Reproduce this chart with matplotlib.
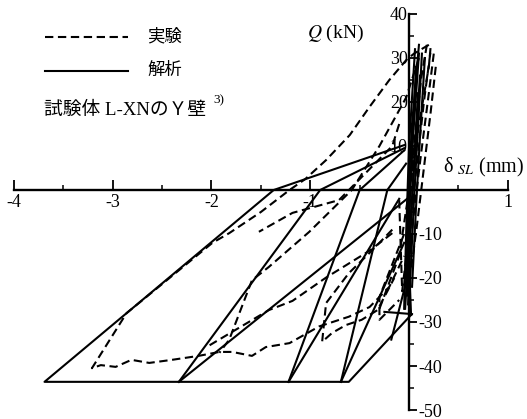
import numpy as np
import matplotlib
matplotlib.use('Agg')
import matplotlib.pyplot as plt
from matplotlib.lines import Line2D

plt.rcParams['font.family'] = ['Liberation Serif', 'Noto Sans CJK JP']
plt.rcParams['mathtext.fontset'] = 'stix'

# ---- 解析 (solid) polylines, delta_SL [mm] / Q [kN]
sol_env_x = [-0.05, -1.37, -3.69, -0.61, 0.02]
sol_env_y = [10.2, 0.0, -43.6, -43.6, -28.4]
sol_r1_x = [-2.33, -0.90, -0.05]
sol_r1_y = [-43.6, 0.0, 9.5]
sol_r2_x = [-2.33, -0.02]
sol_r2_y = [-43.6, -2.0]
sol_r3_x = [-1.22, -0.50, -0.05]
sol_r3_y = [-43.6, 0.0, 9.0]
sol_r4_x = [-1.22, -0.10]
sol_r4_y = [-43.6, -2.0]
sol_r5_x = [-0.69, -0.22, -0.03]
sol_r5_y = [-43.6, 0.0, 6.0]
sol_r6_x = [-0.69, -0.05]
sol_r6_y = [-43.6, -12.0]
sol_s1_x = [-0.25, 0.03]
sol_s1_y = [-27.7, -28.2]
sol_s2_x = [-0.18, -0.03]
sol_s2_y = [-34.0, -21.0]
sol_b1_x = [0.02, -0.02, 0.03, 0.10]
sol_b1_y = [-28.4, -5.0, 15.0, 33.0]
sol_b2_x = [0.06, 0.00, -0.03, -0.05]
sol_b2_y = [32.0, 10.0, -10.0, -27.0]
sol_b3_x = [0.10, 0.04, 0.00, -0.02]
sol_b3_y = [31.0, 12.0, -5.0, -24.0]
sol_b4_x = [-0.03, 0.02, 0.07]
sol_b4_y = [-20.0, 5.0, 28.0]
sol_b5_x = [0.00, 0.05, 0.09, 0.13]
sol_b5_y = [-26.0, -2.0, 14.0, 31.0]
sol_b6_x = [0.09, 0.04, 0.01, -0.01]
sol_b6_y = [22.0, 2.0, -12.0, -26.0]
sol_b7_x = [-0.04, 0.01, 0.06, 0.11]
sol_b7_y = [-27.0, -8.0, 8.0, 26.0]
sol_b8_x = [0.03, 0.07, 0.11, 0.16]
sol_b8_y = [-22.0, -4.0, 12.0, 30.0]

# ---- 実験 (dashed) polylines
exp_a_x = [0.20, 0.05, -0.03, -0.20, -0.40, -0.60, -0.84, -1.05, -1.21, -1.50, -1.82, -1.99,
           -2.86, -3.21, -3.12, -2.97, -2.81, -2.63, -2.40, -2.13, -1.92, -1.79, -1.59, -1.45,
           -1.21, -0.91, -0.61, -0.40, -0.20, -0.05]
exp_a_y = [33.0, 31.0, 29.5, 25.0, 18.9, 12.5, 6.8, 2.5, 0.0, -5.0, -9.8, -12.0,
           -28.0, -40.5, -39.8, -40.2, -38.6, -39.3, -38.6, -37.7, -36.8, -36.8, -37.7, -35.7,
           -34.8, -31.0, -28.8, -26.6, -22.0, -15.0]
exp_b_x = [0.10, -0.03, -0.30, -0.58, -1.01, -1.42, -1.59, -1.82, -1.92]
exp_b_y = [30.0, 21.0, 10.0, 0.0, -9.5, -17.5, -20.5, -34.0, -37.0]
exp_c_x = [-0.10, -0.17, -0.71, -1.18, -1.52]
exp_c_y = [15.0, 10.0, -2.3, -5.2, -9.5]
exp_d_x = [-0.17, -0.40, -0.84, -1.18, -1.42, -2.05]
exp_d_y = [-9.8, -13.8, -19.9, -25.2, -27.3, -35.7]
exp_e_x = [-0.17, -0.40, -0.61, -0.84, -0.88, -0.78, -0.64, -0.48, -0.32, -0.15]
exp_e_y = [-9.0, -14.3, -18.9, -25.7, -34.5, -32.5, -30.7, -29.5, -27.3, -20.0]
exp_f_x = [-0.05, -0.30, -0.30, -0.10]
exp_f_y = [-10.0, -24.3, -29.5, -25.0]
exp_g_x = [-0.10, -0.07, 0.05, 0.15, 0.22]
exp_g_y = [-2.3, -23.0, 0.0, 20.0, 32.0]
exp_h_x = [0.18, 0.12, 0.05, 0.00, -0.05]
exp_h_y = [33.0, 25.0, 10.0, -5.0, -22.0]
exp_i_x = [0.25, 0.20, 0.12, 0.05, -0.02]
exp_i_y = [31.0, 22.0, 8.0, -5.0, -20.0]
exp_j_x = [-0.30, -0.10, 0.00, 0.10, 0.20, 0.22]
exp_j_y = [-27.0, -15.0, 0.0, 15.0, 28.0, 33.0]
exp_k_x = [0.27, 0.22, 0.15, 0.08, 0.02]
exp_k_y = [28.0, 18.0, 5.0, -8.0, -18.0]

sol_lines = [(sol_env_x, sol_env_y), (sol_r1_x, sol_r1_y), (sol_r2_x, sol_r2_y),
             (sol_r3_x, sol_r3_y), (sol_r4_x, sol_r4_y), (sol_r5_x, sol_r5_y),
             (sol_r6_x, sol_r6_y), (sol_s1_x, sol_s1_y), (sol_s2_x, sol_s2_y),
             (sol_b1_x, sol_b1_y), (sol_b2_x, sol_b2_y), (sol_b3_x, sol_b3_y),
             (sol_b4_x, sol_b4_y), (sol_b5_x, sol_b5_y), (sol_b6_x, sol_b6_y),
             (sol_b7_x, sol_b7_y), (sol_b8_x, sol_b8_y)]
exp_lines = [(exp_a_x, exp_a_y), (exp_b_x, exp_b_y), (exp_c_x, exp_c_y), (exp_d_x, exp_d_y),
             (exp_e_x, exp_e_y), (exp_f_x, exp_f_y), (exp_g_x, exp_g_y), (exp_h_x, exp_h_y),
             (exp_i_x, exp_i_y), (exp_j_x, exp_j_y), (exp_k_x, exp_k_y)]

W, H = 527, 419
fig = plt.figure(figsize=(W/100, H/100), dpi=100)
ax = fig.add_axes([4/W, (H-414.4)/H, 518.7/W, 407/H])
ax.set_xlim(-4.1, 1.15)
ax.set_ylim(-51, 41.5)

for x, y in sol_lines:
    ax.plot(x, y, '-', color='black', lw=1.5)
for x, y in exp_lines:
    ax.plot(x, y, color='black', lw=1.5, dashes=(4, 2.2))

# axes crossing at origin
for s in ['top', 'right']:
    ax.spines[s].set_visible(False)
ax.spines['left'].set_position(('data', 0))
ax.spines['bottom'].set_position(('data', 0))
ax.spines['left'].set_bounds(-50, 40)
ax.spines['bottom'].set_bounds(-4, 1)
ax.spines['left'].set_linewidth(1.7)
ax.spines['bottom'].set_linewidth(1.7)

ax.set_xticks([-4, -3, -2, -1, 0, 1])
ax.set_xticklabels(['-4', '-3', '-2', '-1', '', '1'])
ax.set_xticks(np.arange(-3.5, 1, 1), minor=True)
ax.tick_params(axis='x', which='major', direction='in', length=7, width=1.3, labelsize=13, pad=3)
ax.tick_params(axis='x', which='minor', direction='in', length=3.5, width=1.1)

ax.set_yticks([0, 10, 20, 30, 40])
ax.set_yticklabels(['', '10', '20', '30', '40'])
ax.set_yticks([5, 15, 25, 35], minor=True)
ax.tick_params(axis='y', which='major', direction='in', length=6, width=1.3, labelsize=13, pad=1)
ax.tick_params(axis='y', which='minor', direction='in', length=3.5, width=1.1)

sec = ax.secondary_yaxis(4.1/5.25)
sec.spines['right'].set_visible(False)
sec.spines['left'].set_visible(False)
sec.set_yticks([-10, -20, -30, -40, -50])
sec.set_yticklabels(['-10', '-20', '-30', '-40', '-50'])
sec.set_yticks([-5, -15, -25, -35, -45], minor=True)
sec.tick_params(axis='y', which='major', direction='out', length=6, width=1.3, labelsize=13,
                pad=1, left=False, labelleft=False, right=True, labelright=True)
sec.tick_params(axis='y', which='minor', direction='out', length=3.5, width=1.1,
                left=False, right=True)

# axis titles
fig.text(307/W, 1-33/H, '$Q$ (kN)', fontsize=14, va='center', ha='left')
fig.text(443/W, 1-167/H, 'δ $_{SL}$ (mm)', fontsize=14.5, va='center', ha='left')

# legend
fig.add_artist(Line2D([45/W, 128/W], [1-37/H, 1-37/H], color='black', lw=1.5, dashes=(4, 2.2)))
fig.add_artist(Line2D([45/W, 128/W], [1-71/H, 1-71/H], color='black', lw=1.5))
fig.text(147/W, 1-37/H, '実験', fontsize=12.5, va='center', ha='left')
fig.text(147/W, 1-71/H, '解析', fontsize=12.5, va='center', ha='left')
fig.text(44/W, 1-110/H, '試験体 L-XNのＹ壁', fontsize=13.5, va='center', ha='left')
fig.text(213/W, 1-100/H, '3)', fontsize=9.5, va='center', ha='left')

fig.savefig('out.png', dpi=100)
